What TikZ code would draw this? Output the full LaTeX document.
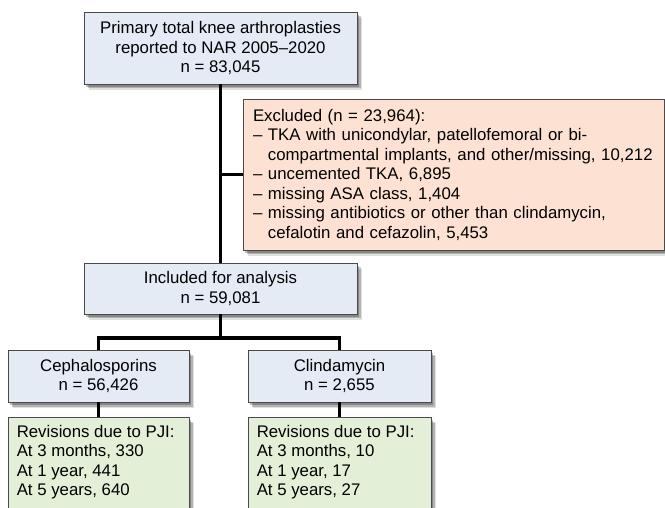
\documentclass[tikz,border=0pt]{standalone}
\usepackage{fontspec}
\setmainfont{Liberation Sans}
\usetikzlibrary{shadows}
\definecolor{boxblue}{HTML}{E4EBF5}
\definecolor{boxpink}{HTML}{FDE2D4}
\definecolor{boxgreen}{HTML}{E3EFD7}
\definecolor{boxline}{HTML}{4A4A4A}
\tikzset{
  basebox/.style={draw=boxline, line width=0.9pt, inner sep=0pt,
    font=\fontsize{16.8}{19.5}\selectfont,
    general shadow={shadow xshift=5pt, shadow yshift=-6pt, fill=black, opacity=0.12},
    general shadow={shadow xshift=3.5pt, shadow yshift=-4.5pt, fill=black, opacity=0.2},
    general shadow={shadow xshift=2pt, shadow yshift=-3pt, fill=black, opacity=0.25}},
  bluebox/.style={basebox, fill=boxblue, align=center},
  pinkbox/.style={basebox, fill=boxpink, align=left, inner xsep=10pt},
  greenbox/.style={basebox, fill=boxgreen},
  boxtext/.style={inner sep=0pt, align=left, font=\fontsize{16.8}{19.5}\selectfont},
  conn/.style={line width=3.5pt, black, line join=miter},
}
\begin{document}
\begin{tikzpicture}[x=1pt,y=-1pt]
\clip (0,0) rectangle (665,508);
\fill[white] (0,0) rectangle (665,508);

\node[bluebox, minimum width=273pt, minimum height=72pt] (top) at (220.5,48)
  {Primary total knee arthroplasties\\reported to NAR 2005–2020\\n = 83,045};

\node[pinkbox, minimum width=421pt, minimum height=151pt, text width=401pt] (exc) at (453.5,174.5)
  {Excluded (n = 23,964):\\
   – TKA with unicondylar, patellofemoral or bi-\\
   \phantom{– }compartmental implants, and other/missing, 10,212\\
   – uncemented TKA, 6,895\\
   – missing ASA class, 1,404\\
   – missing antibiotics or other than clindamycin,\\
   \phantom{– }cefalotin and cefazolin, 5,453};

\node[bluebox, minimum width=273pt, minimum height=51pt] (inc) at (220.5,288.5)
  {Included for analysis\\n = 59,081};

\node[bluebox, minimum width=181pt, minimum height=52pt] (ceph) at (98.5,376)
  {Cephalosporins\\n = 56,426};
\node[bluebox, minimum width=183pt, minimum height=52pt] (cli) at (339.5,376)
  {Clindamycin\\n = 2,655};

\node[greenbox, minimum width=181pt, minimum height=130pt, anchor=north] (g1) at (98.5,417) {};
\node[greenbox, minimum width=183pt, minimum height=130pt, anchor=north] (g2) at (339.5,417) {};
\node[boxtext, anchor=north west, xshift=9pt, yshift=-8pt] (g1t) at (g1.north west)
  {Revisions due to PJI:\\At 3 months, 330\\At 1 year, 441\\At 5 years, 640};
\node[boxtext, anchor=north west, xshift=9pt, yshift=-8pt] (g2t) at (g2.north west)
  {Revisions due to PJI:\\At 3 months, 10\\At 1 year, 17\\At 5 years, 27};

\coordinate (br) at (220.5,338);
\draw[conn] (top.south) -- (inc.north);
\draw[conn] (top.south |- exc.west) -- (exc.west);
\draw[conn] (inc.south) -- (inc.south |- br);
\draw[conn] (ceph.north) -- (ceph.north |- br) -- (cli.north |- br) -- (cli.north);
\draw[conn] (ceph.south) -- (g1.north);
\draw[conn] (cli.south) -- (g2.north);
\end{tikzpicture}
\end{document}
